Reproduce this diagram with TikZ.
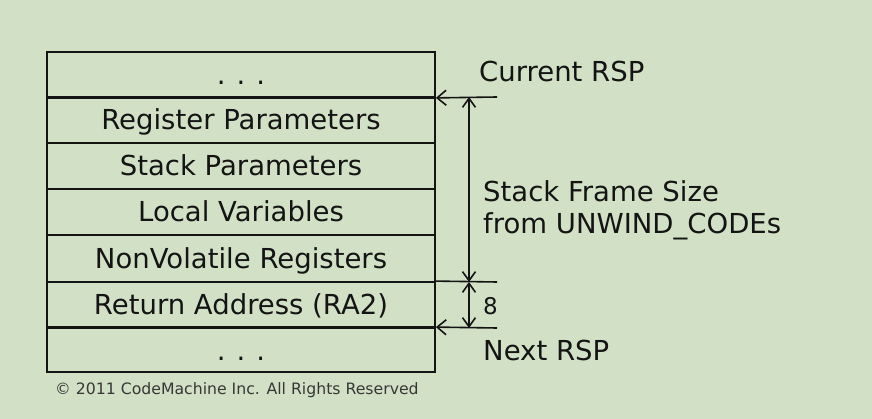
\documentclass[tikz,border=0pt]{standalone}
\usepackage{fontspec}
\setmainfont{DejaVu Sans}
\usetikzlibrary{arrows.meta}
\definecolor{bg}{RGB}{210,225,197}
\definecolor{ink}{RGB}{20,20,20}
\tikzset{
  cell/.style={draw=ink, line width=1.8pt, minimum width=388pt, inner sep=0pt,
    text height=20pt, text depth=0pt, font=\fontsize{27.5}{32}\selectfont, text=ink},
  lbl/.style={anchor=base west, inner sep=0pt, font=\fontsize{27.5}{32}\selectfont, text=ink, align=left},
  ptr/.style={draw=ink, line width=1.6pt},
  tipl/.style={-{Straight Barb[length=9pt,width=15pt,line width=1.6pt]}},
  dim/.style={{Straight Barb[length=9pt,width=13pt,line width=1.6pt]}-{Straight Barb[length=9pt,width=13pt,line width=1.6pt]}, draw=ink, line width=1.6pt}
}
\newcommand{\stackdots}{.\hspace{11pt}.\hspace{11pt}.}
\begin{document}
\begin{tikzpicture}[x=1pt,y=-1pt]
\fill[bg] (0,0) rectangle (872,419);
\useasboundingbox (0,0) rectangle (872,419);
\node[cell, minimum height=45pt] (r0) at (241,74.5) {\stackdots};
\node[cell, minimum height=46pt] (r1) at (241,120) {Register Parameters};
\node[cell, minimum height=46pt] (r2) at (241,166) {Stack Parameters};
\node[cell, minimum height=46pt] (r3) at (241,212) {Local Variables};
\node[cell, minimum height=47pt] (r4) at (241,258.5) {NonVolatile Registers};
\node[cell, minimum height=46pt] (r5) at (241,305) {Return Address (RA2)};
\node[cell, minimum height=44pt] (r6) at (241,350) {\stackdots};
% thicker separators
\draw[ink, line width=3pt] (r0.south west) -- (r0.south east);
\draw[ink, line width=3pt] (r6.north west) -- (r6.north east);
% pointer lines
\coordinate (c1) at (497,97);
\coordinate (c2) at (497,282);
\coordinate (c3) at (497,328);
\draw[ptr, tipl] (c1) -- (r0.south east);
\draw[ptr] (r5.north east) -- (c2);
\draw[ptr, tipl] (c3) -- (r6.north east);
% dimension arrows
\coordinate (d1) at (469,97);
\coordinate (d2) at (469,282);
\coordinate (d3) at (469,328);
\draw[dim] (d1) -- (d2);
\draw[dim] (d2) -- (d3);
% labels
\node[lbl] (cur) at (479,82) {Current RSP};
\node[lbl] (sfs) at (483,234) {Stack Frame Size\\from UNWIND\_CODEs};
\node[lbl, font=\fontsize{23}{28}\selectfont] (eight) at (483,315) {8};
\node[lbl] (nxt) at (483,360.5) {Next RSP};
\node[anchor=base west, inner sep=0pt, font=\fontsize{15.7}{19}\selectfont, text=ink!85] (copy) at (55,394) {© 2011 CodeMachine Inc. All Rights Reserved};
\end{tikzpicture}
\end{document}
